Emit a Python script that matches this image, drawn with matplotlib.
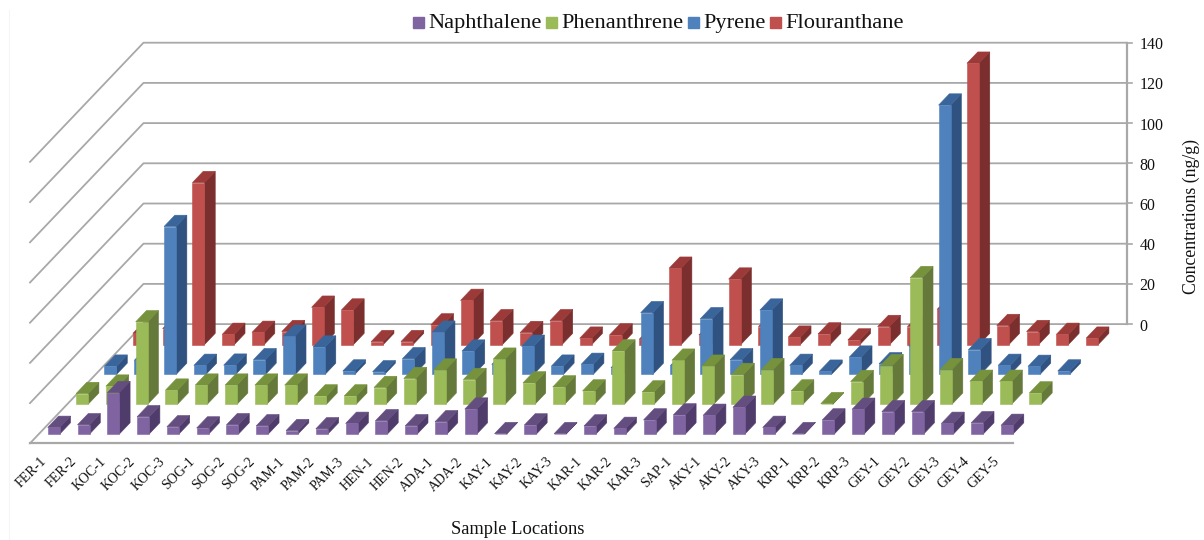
import matplotlib
matplotlib.use("Agg")
import matplotlib.pyplot as plt
from matplotlib.patches import Polygon, Patch

plt.rcParams['font.family'] = ['Liberation Serif', 'DejaVu Serif']

categories = ["FER-1","FER-2","KOC-1","KOC-2","KOC-3","SOG-1","SOG-2","SOG-2","PAM-1","PAM-2","PAM-3",
              "HEN-1","HEN-2","ADA-1","ADA-2","KAY-1","KAY-2","KAY-3","KAR-1","KAR-2","KAR-3","SAP-1",
              "AKY-1","AKY-2","AKY-3","KRP-1","KRP-2","KRP-3","GEY-1","GEY-2","GEY-3","GEY-4","GEY-5"]
naphthalene = [3.3,4.6,20.6,8.6,3.6,3.0,4.6,4.1,1.7,2.6,5.3,6.6,4.1,6.1,12.4,0.2,4.5,0.2,4.0,2.8,7.0,9.5,
               9.3,13.3,3.3,0.2,7.0,12.3,11.1,11.1,5.3,5.6,4.3]
phenanthrene = [5.3,9.0,41.0,7.0,9.5,9.5,9.5,9.5,4.1,4.1,8.3,12.8,17.0,12.3,22.4,10.6,8.6,6.6,26.5,6.1,
                21.9,18.9,14.8,17.2,6.6,0.3,11.3,19.2,63.0,17.2,11.4,11.4,5.6]
pyrene = [4.1,7.0,73.6,4.5,4.6,7.3,19.0,13.6,1.7,1.3,7.8,21.0,11.6,5.0,14.0,4.1,5.0,3.3,30.7,4.5,27.7,7.3,
          32.0,4.5,1.6,8.6,5.3,14.0,134.0,12.3,4.5,4.0,1.7]
flouranthane = [5.6,8.0,80.6,5.1,6.1,6.5,18.6,17.2,1.5,1.5,9.8,22.0,11.9,6.0,11.9,3.2,4.8,2.7,38.0,4.8,
                32.6,9.0,3.7,5.3,2.3,9.0,9.0,17.6,140.0,9.5,6.5,5.1,3.2]
series_names = ["Naphthalene", "Phenanthrene", "Pyrene", "Flouranthane"]
series_values = [naphthalene, phenanthrene, pyrene, flouranthane]
value_ticks = [0, 20, 40, 60, 80, 100, 120, 140]

front_colors = ["#8064A2", "#9BBB59", "#4F81BD", "#C0504D"]
top_colors = ["#644E80", "#76923C", "#3A659B", "#9B3A38"]
side_colors = ["#503C6B", "#65793A", "#2F5280", "#7A2E2D"]
GRID = "#A8A8A8"

W, H = 1204, 540
PX_U, PX_V = 29.79, 2.01      # pixels per category / per value unit
X0, Y0 = 30.0, 443.3          # front-left floor corner, pixels
DEPTH_U = 28.375 / PX_U       # oblique shift per series row
DEPTH_V = 29.8 / PX_V

fig = plt.figure(figsize=(W / 100, H / 100), dpi=100)
ax = fig.add_axes([0, 0, 1, 1])
ax.set_xlim(-X0 / PX_U, (W - X0) / PX_U)
ax.set_ylim((Y0 - H) / PX_V, Y0 / PX_V)
ax.axis("off")


def proj(u, d, v):
    return (u + d * DEPTH_U, v + d * DEPTH_V)


NU, ND = len(categories), len(series_names)
# faint image border on the left
ax.plot([(9.5 - X0) / PX_U] * 2, [(Y0 - 540) / PX_V, (Y0 - 10) / PX_V], color="#F5F5F5", lw=0.8, zorder=0)
# walls and floor
for t in value_ticks:
    ax.plot(*zip(proj(0, 0, t), proj(0, ND, t), proj(NU, ND, t)), color=GRID, lw=1.3, zorder=1)
    a = proj(NU, ND, t)
    ax.plot([a[0], a[0] + 5 / PX_U], [t + ND * DEPTH_V] * 2, color=GRID, lw=1.2, zorder=1)
    ax.text(a[0] + 13 / PX_U, a[1] - 1.2, str(t), ha="left", va="center", fontsize=11.5, color="#111111")
ax.plot(*zip(proj(0, 0, 0), proj(NU, 0, 0)), color=GRID, lw=1.6, zorder=1)
ax.plot(*zip(proj(NU, ND, 0), proj(NU, ND, value_ticks[-1])), color=GRID, lw=1.6, zorder=1)

# bars, back row first
BW0, BW1 = 0.3, 0.703
BD0, BD1 = 0.31, 0.69
z = 2
for k in range(ND - 1, -1, -1):
    for i, val in enumerate(series_values[k]):
        u0, u1 = i + BW0, i + BW1
        d0, d1 = k + BD0, k + BD1
        top = [proj(u0, d0, val), proj(u1, d0, val), proj(u1, d1, val), proj(u0, d1, val)]
        side = [proj(u1, d0, 0), proj(u1, d1, 0), proj(u1, d1, val), proj(u1, d0, val)]
        front = [proj(u0, d0, 0), proj(u1, d0, 0), proj(u1, d0, val), proj(u0, d0, val)]
        for pts, c in ((side, side_colors[k]), (top, top_colors[k]), (front, front_colors[k])):
            ax.add_patch(Polygon(pts, closed=True, facecolor=c, edgecolor=c, lw=0.4, zorder=z))
        z += 1

# category labels
for i, name in enumerate(categories):
    ax.text(i + 0.32, (Y0 - 455) / PX_V, name, rotation=45, rotation_mode="anchor",
            ha="right", va="top", fontsize=10, color="#111111")

ax.text((517.5 - X0) / PX_U, (Y0 - 530) / PX_V, "Sample Locations", ha="center", va="center",
        fontsize=13.3, color="#111111")
ax.text((1191 - X0) / PX_U, (Y0 - 216.5) / PX_V, "Concentrations (ng/g)", rotation=90, ha="center",
        va="center", fontsize=12.8, color="#111111")

handles = [Patch(facecolor=c, edgecolor=c, label=n) for c, n in zip(front_colors, series_names)]
leg = ax.legend(handles=handles, ncol=4, frameon=False, loc="center", bbox_to_anchor=(658.4 / W, 1 - 23 / H),
                fontsize=16.1, handlelength=0.49, handleheight=0.49, handletextpad=0.2, columnspacing=0.2,
                borderpad=0, labelcolor="#111111")
for h in leg.legend_handles:
    h.set_y(0.0)
    h.set_height(8.0)

fig.savefig("out.png", dpi=100)
